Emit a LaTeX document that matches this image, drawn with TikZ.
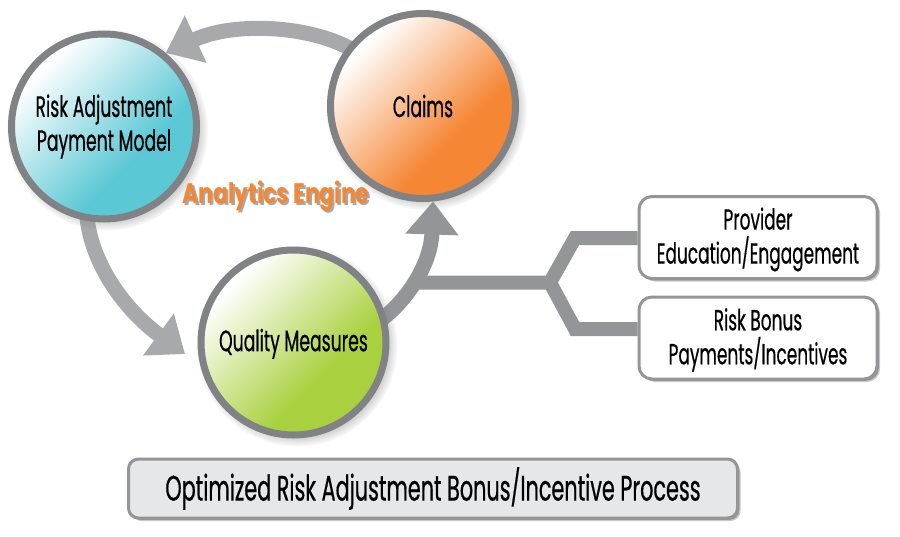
\documentclass[tikz,border=0pt]{standalone}
\usepackage{fontspec}
\setmainfont[FakeStretch=0.585,FakeBold=0.5]{Poppins}
\newfontfamily\anfont[FakeStretch=0.77]{Poppins}
\usetikzlibrary{arrows.meta,shadows,backgrounds}
\definecolor{ringc}{HTML}{808285}
\definecolor{arrowa}{HTML}{A7A9AC}
\definecolor{arrowb}{HTML}{939598}
\definecolor{bluec}{HTML}{5BC8D5}
\definecolor{orangec}{HTML}{F58634}
\definecolor{greenc}{HTML}{A9D13F}
\definecolor{panelc}{HTML}{E6E7E8}
\definecolor{softshadow}{HTML}{A8A8A8}
\pgfdeclareverticalshading{blueS}{100bp}{color(0bp)=(bluec); color(38bp)=(bluec); color(73bp)=(white); color(100bp)=(white)}
\pgfdeclareverticalshading{orangeS}{100bp}{color(0bp)=(orangec); color(38bp)=(orangec); color(73bp)=(white); color(100bp)=(white)}
\pgfdeclareverticalshading{greenS}{100bp}{color(0bp)=(greenc); color(38bp)=(greenc); color(73bp)=(white); color(100bp)=(white)}
\newcommand{\dropline}[1]{\rule{0pt}{#1}}
\newcommand{\shadowed}[1]{\makebox[0pt][l]{\kern2pt\raisebox{-2pt}{\textcolor{softshadow}{#1}}}#1}
\tikzset{
  bubble/.style={circle,draw=ringc,line width=7pt,minimum size=185pt,inner sep=0pt,align=center,
    font=\fontsize{29.5}{34}\selectfont,shade,shading angle=45,
    circular drop shadow={shadow xshift=3pt,shadow yshift=-3pt,shadow scale=1.09,opacity=.55}},
  card/.style={rectangle,rounded corners=13pt,draw=ringc!85,line width=3pt,fill=white,inner sep=0pt,align=center,
    minimum width=238pt,minimum height=82pt,font=\fontsize{29}{34}\selectfont,
    drop shadow={shadow xshift=3pt,shadow yshift=-3pt,fill=black,opacity=.22},
    drop shadow={shadow xshift=1.8pt,shadow yshift=-1.8pt,fill=black,opacity=.25}},
  banner/.style={card,fill=panelc,minimum width=609pt,minimum height=59pt,rounded corners=10pt,font=\fontsize{35.5}{40}\selectfont},
  flowa/.style={draw=arrowa,line width=15pt,-{Triangle[length=33pt,width=50pt,fill=arrowa]}},
  flowb/.style={draw=arrowb,line width=15pt,-{Triangle[length=33pt,width=51pt,fill=arrowb]}},
  branch/.style={draw=arrowb,line width=14pt,miter limit=10,line join=miter},
  engine/.style={inner sep=0pt,text=orangec,font=\fontsize{28.2}{30}\selectfont\anfont\bfseries}
}
\begin{document}
\begin{tikzpicture}[x=1pt,y=-1pt]
\useasboundingbox (0,0) rectangle (900,536);
\node[bubble,shading=blueS] (risk) at (104,126.5) {Risk Adjustment\\Payment Model};
\node[bubble,shading=orangeS] (claims) at (423,106) {Claims};
\node[bubble,shading=greenS] (quality) at (293.5,342.5) {\dropline{25pt}Quality Measures};
\node[card] (provider) at (758,237.5) {\dropline{26pt}Provider\\Education/Engagement};
\node[card] (bonus) at (758,338) {\dropline{26pt}Risk Bonus\\Payments/Incentives};
\node[banner] (process) at (433,488.5) {Optimized Risk Adjustment Bonus/Incentive Process};
\node[engine] (engine) at (276,197) {\shadowed{Analytics Engine}};
\coordinate (qtip) at (185,354);
\coordinate (stem) at (415,282.5);
\coordinate (fork) at (550,282.5);
\coordinate (upbend) at (575,238);
\coordinate (lowbend) at (575,329);
\begin{pgfonlayer}{background}
\fill[white] (0,0) rectangle (900,536);
\draw[flowa,shorten <=-4pt] (claims.142) .. controls (310,26) and (235,21) .. (risk.50);
\draw[flowa,shorten <=-4pt] (risk.-100) .. controls (92,265) and (125,310) .. (qtip);
\draw[flowb,shorten <=-4pt] (quality.16) .. controls (410,297) and (431,262) .. (claims.276);
\draw[branch] (stem) -- (fork) -- (upbend) -- (provider.west |- upbend);
\draw[branch] (fork) -- (lowbend) -- (bonus.west |- lowbend);
\end{pgfonlayer}
\end{tikzpicture}
\end{document}
